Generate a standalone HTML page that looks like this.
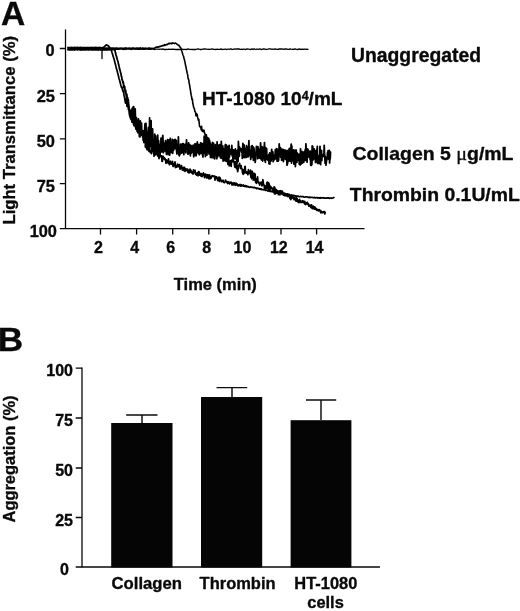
<!DOCTYPE html>
<html><head><meta charset="utf-8"><title>Figure</title>
<style>
html,body{margin:0;padding:0;background:#fff;}
svg{display:block;filter:blur(0.4px);}
text{font-family:"Liberation Sans",Arial,Helvetica,sans-serif;font-weight:bold;fill:#0a0a0a;stroke:#0a0a0a;stroke-width:0.35;stroke-linejoin:round;}
.ax{stroke:#080808;stroke-width:1.3;fill:none;}
.tr{stroke:#000;fill:none;stroke-linejoin:round;stroke-linecap:round;}
</style></head><body>
<svg width="520" height="611" viewBox="0 0 520 611">
<rect width="520" height="611" fill="#fff"/>

<!-- Panel A -->
<text x="1" y="25" font-size="33.5">A</text>
<g class="ax">
<path d="M65.5 29.5V228.6"/>
<path d="M59.8 228.6H364.5"/>
<path d="M59.8 48.5H65.5M59.8 93.6H65.5M59.8 138.8H65.5M59.8 183.7H65.5"/>
<path d="M100.5 228.6v5.8M136.6 228.6v5.8M172.7 228.6v5.8M208.8 228.6v5.8M244.9 228.6v5.8M281 228.6v5.8M316.6 228.6v5.8"/>
</g>
<g font-size="16.4" text-anchor="end">
<text x="54.7" y="56.3">0</text>
<text x="54.9" y="101.5">25</text>
<text x="54.9" y="146.7">50</text>
<text x="54.9" y="191.6">75</text>
<text x="57" y="237">100</text>
</g>
<g font-size="16" text-anchor="middle">
<text x="98.5" y="252.6">2</text>
<text x="134.6" y="252.6">4</text>
<text x="170.7" y="252.6">6</text>
<text x="206.8" y="252.6">8</text>
<text x="242.5" y="252.6">10</text>
<text x="278.8" y="252.6">12</text>
<text x="314.6" y="252.6">14</text>
</g>
<text x="173.8" y="289.6" font-size="17" textLength="83" lengthAdjust="spacingAndGlyphs">Time (min)</text>
<text transform="translate(15.3,224.5) rotate(-90)" font-size="16.8" textLength="188.5" lengthAdjust="spacingAndGlyphs">Light Transmittance (%)</text>

<polyline class="tr" stroke-width="1.3" points="68.0,49.2 69.0,49.1 70.0,49.2 71.0,49.0 72.0,49.3 73.0,49.2 74.0,49.0 75.0,49.1 76.0,49.0 77.0,49.5 78.0,49.0 79.0,49.3 80.0,49.3 81.0,49.3 82.0,49.1 83.0,49.0 84.0,48.9 85.0,49.0 86.0,49.4 87.0,49.0 88.0,49.2 89.0,49.1 90.0,48.9 91.0,49.1 92.0,49.5 93.0,49.1 94.0,49.1 95.0,49.3 96.0,49.1 97.0,49.0 98.0,49.1 99.0,49.5 100.0,48.9 101.0,48.9 102.0,49.4 103.0,49.0 104.0,48.9 105.0,49.0 106.0,49.5 107.0,49.5 108.0,49.5 109.0,49.1 110.0,49.5 111.0,48.9 112.0,49.2 113.0,49.2 114.0,49.2 115.0,49.5 116.0,49.4 117.0,49.2 118.0,49.4 119.0,49.4 120.0,48.9 121.0,49.1 122.0,49.1 123.0,49.5 124.0,49.4 125.0,49.1 126.0,49.5 127.0,48.9 128.0,49.1 129.0,49.0 130.0,49.2 131.0,49.5 132.0,49.4 133.0,48.9 134.0,49.0 135.0,49.4 136.0,49.0 137.0,49.4 138.0,49.3 139.0,49.3 140.0,49.3 141.0,49.3 142.0,49.0 143.0,49.4 144.0,49.2 145.0,49.4 146.0,48.9 147.0,49.0 148.0,49.2 149.0,49.4 150.0,49.1 151.0,49.4 152.0,48.9 153.0,48.9 154.0,49.3 155.0,49.5 156.0,49.1 157.0,49.1 158.0,49.1 159.0,49.3 160.0,49.1 161.0,49.1 162.0,49.4 163.0,48.9 164.0,49.5 165.0,49.4 166.0,49.5 167.0,49.4 168.0,49.4 169.0,49.1 170.0,49.4 171.0,49.3 172.0,49.1 173.0,49.4 174.0,49.2 175.0,49.5 176.0,49.4 177.0,49.5 178.0,49.5 179.0,49.3 180.0,49.5 181.0,49.3 182.0,49.2 183.0,49.5 184.0,49.3 185.0,49.3 186.0,49.5 187.0,49.3 188.0,48.9 189.0,49.3 190.0,49.3 191.0,49.4 192.0,49.5 193.0,49.4 194.0,49.5 195.0,49.4 196.0,49.5 197.0,49.2 198.0,49.0 199.0,49.2 200.0,49.5 201.0,49.5 202.0,49.3 203.0,49.1 204.0,49.0 205.0,48.9 206.0,49.1 207.0,49.2 208.0,49.5 209.0,49.2 210.0,49.3 211.0,49.2 212.0,48.9 213.0,49.1 214.0,49.3 215.0,49.3 216.0,49.5 217.0,49.2 218.0,49.3 219.0,49.4 220.0,49.4 221.0,48.9 222.0,49.5 223.0,49.4 224.0,49.3 225.0,49.0 226.0,49.5 227.0,49.3 228.0,49.0 229.0,49.3 230.0,49.0 231.0,48.9 232.0,49.3 233.0,49.4 234.0,49.2 235.0,49.0 236.0,49.1 237.0,48.9 238.0,49.0 239.0,48.9 240.0,49.3 241.0,49.4 242.0,49.2 243.0,49.3 244.0,49.0 245.0,49.5 246.0,49.3 247.0,48.9 248.0,49.2 249.0,49.2 250.0,49.5 251.0,49.4 252.0,48.9 253.0,49.3 254.0,48.9 255.0,49.2 256.0,49.4 257.0,49.0 258.0,49.3 259.0,49.1 260.0,48.9 261.0,49.5 262.0,49.4 263.0,49.0 264.0,49.0 265.0,49.1 266.0,49.4 267.0,49.5 268.0,49.2 269.0,48.9 270.0,48.9 271.0,49.0 272.0,49.4 273.0,49.0 274.0,49.3 275.0,48.9 276.0,49.1 277.0,49.3 278.0,49.3 279.0,48.9 280.0,49.0 281.0,49.0 282.0,49.0 283.0,49.1 284.0,49.4 285.0,48.9 286.0,49.0 287.0,49.2 288.0,49.4 289.0,49.4 290.0,48.9 291.0,49.2 292.0,49.3 293.0,49.2 294.0,49.4 295.0,48.9 296.0,49.2 297.0,49.4 298.0,49.5 299.0,48.9 300.0,49.4 301.0,49.1 302.0,49.4 303.0,49.2 304.0,49.4 305.0,49.0 306.0,49.5 307.0,49.1 308.0,49.4"/>
<path class="tr" stroke-width="1.3" d="M102 48.5V58.5"/>
<polyline class="tr" stroke-width="1.7" points="68.0,47.4 68.5,47.7 69.0,47.6 69.5,47.7 70.0,47.8 70.5,47.6 71.0,47.6 71.5,47.4 72.0,47.5 72.5,47.6 73.0,47.7 73.5,47.7 74.0,47.5 74.5,47.4 75.0,47.5 75.5,47.8 76.0,47.5 76.5,47.6 77.0,47.8 77.5,47.4 78.0,47.6 78.5,47.8 79.0,47.5 79.5,47.6 80.0,47.8 80.5,47.4 81.0,47.6 81.5,47.7 82.0,47.7 82.5,47.6 83.0,47.5 83.5,47.6 84.0,47.5 84.5,47.6 85.0,47.5 85.5,47.8 86.0,47.7 86.5,47.5 87.0,47.6 87.5,47.5 88.0,47.6 88.5,47.5 89.0,47.7 89.5,47.5 90.0,47.6 90.5,47.7 91.0,47.6 91.5,47.8 92.0,47.4 92.5,47.7 93.0,47.6 93.5,47.6 94.0,47.7 94.5,47.6 95.0,47.6 95.5,47.3 96.0,47.4 96.5,47.7 97.0,47.6 97.5,47.7 98.0,47.8 98.5,47.7 99.0,47.4 99.5,47.5 100.0,47.6 100.5,47.5 101.0,47.8 101.5,47.8 102.0,47.8 102.5,47.6 103.0,47.8 103.5,47.4 104.0,47.0 104.5,46.5 105.0,46.1 105.5,45.7 106.0,45.1 106.5,44.9 107.0,45.2 107.5,45.4 108.0,45.6 108.5,46.0 109.0,46.6 109.5,47.4 110.0,48.0 110.5,48.4 111.0,49.0 111.5,50.8 112.0,52.6 112.5,54.1 113.0,55.8 113.5,57.6 114.0,58.7 114.5,61.1 115.0,62.7 115.5,64.7 116.0,66.8 116.5,68.7 117.0,70.3 117.5,72.5 118.0,74.1 118.5,76.2 119.0,78.4 119.5,80.0 120.0,82.1 120.5,83.9 121.0,85.8 121.5,87.5 122.0,87.0 122.5,89.8 123.0,91.6 123.5,91.2 124.0,95.2 124.5,97.3 125.0,100.5 125.5,103.2 126.0,98.8 126.5,101.1 127.0,106.4 127.5,103.1 128.0,105.3 128.5,109.9 129.0,107.7 129.5,114.7 130.0,116.8 130.5,110.3 131.0,115.9 131.5,119.4 132.0,122.1 132.5,116.7 133.0,116.7 133.5,124.3 134.0,125.7 134.5,120.1 135.0,123.5 135.5,127.1 136.0,129.2 136.5,123.9 137.0,129.6 137.5,131.9 138.0,130.5 138.5,127.8 139.0,127.6 139.5,130.9 140.0,136.9 140.5,130.5 141.0,130.9 141.5,135.2 142.0,133.1 142.5,134.8 143.0,134.4 143.5,140.1 144.0,142.6 144.5,140.8 145.0,138.6 145.5,141.1 146.0,144.3 146.5,148.4 147.0,149.5 147.5,142.8 148.0,141.1 148.5,149.9 149.0,151.5 149.5,147.5 150.0,151.2 150.5,152.6 151.0,150.6 151.5,153.6 152.0,145.9 152.5,148.8 153.0,149.4 153.5,148.5 154.0,156.3 154.5,148.7 155.0,155.1 155.5,150.1 156.0,153.1 156.5,154.0 157.0,152.3 157.5,155.6 158.0,156.2 158.5,154.7 159.0,158.6 159.5,154.2 160.0,154.8 160.5,156.4 161.0,156.8 161.5,155.8 162.0,161.5 162.5,161.1 163.0,156.0 163.5,158.2 164.0,157.5 164.5,159.3 165.0,158.4 165.5,160.2 166.0,163.4 166.5,159.9 167.0,161.9 167.5,161.8 168.0,163.0 168.5,158.8 169.0,163.3 169.5,164.8 170.0,162.9 170.5,161.2 171.0,163.7 171.5,164.2 172.0,164.1 172.5,161.3 173.0,166.3 173.5,166.4 174.0,163.6 174.5,164.8 175.0,161.8 175.5,167.6 176.0,166.8 176.5,166.0 177.0,167.0 177.5,164.0 178.0,164.9 178.5,164.8 179.0,167.0 179.5,164.5 180.0,169.2 180.5,167.0 181.0,167.2 181.5,165.6 182.0,169.0 182.5,170.0 183.0,169.2 183.5,167.3 184.0,170.6 184.5,167.3 185.0,171.3 185.5,170.1 186.0,168.7 186.5,170.0 187.0,170.8 187.5,169.0 188.0,172.3 188.5,170.2 189.0,172.8 189.5,172.7 190.0,169.0 190.5,172.0 191.0,170.4 191.5,172.9 192.0,171.9 192.5,171.7 193.0,174.1 193.5,169.9 194.0,172.6 194.5,171.6 195.0,170.3 195.5,174.1 196.0,173.3 196.5,175.1 197.0,173.7 197.5,172.6 198.0,175.9 198.5,171.8 199.0,171.6 199.5,175.1 200.0,173.5 200.5,173.6 201.0,176.2 201.5,173.7 202.0,176.6 202.5,175.5 203.0,174.2 203.5,173.0 204.0,174.1 204.5,177.6 205.0,175.1 205.5,174.1 206.0,174.9 206.5,177.8 207.0,174.6 207.5,177.6 208.0,174.8 208.5,178.7 209.0,176.8 209.5,174.8 210.0,178.9 210.5,176.5 211.0,178.3 211.5,177.5 212.0,175.7 212.5,175.8 213.0,176.2 213.5,176.3 214.0,176.0 214.5,176.1 215.0,180.1 215.5,176.5 216.0,178.4 216.5,176.9 217.0,177.4 217.5,179.9 218.0,180.7 218.5,178.9 219.0,177.1 219.5,181.5 220.0,177.7 220.5,179.3 221.0,180.1 221.5,181.7 222.0,181.6 222.5,180.9 223.0,180.2 223.5,182.2 224.0,182.5 224.5,182.7 225.0,182.2 225.5,180.0 226.0,181.0 226.5,181.9 227.0,182.1 227.5,183.5 228.0,181.5 228.5,183.2 229.0,182.4 229.5,184.0 230.0,182.2 230.5,183.2 231.0,182.1 231.5,182.6 232.0,185.0 232.5,183.1 233.0,185.0 233.5,184.0 234.0,182.7 234.5,184.9 235.0,183.0 235.5,185.2 236.0,183.1 236.5,184.9 237.0,183.8 237.5,184.3 238.0,185.9 238.5,184.9 239.0,185.4 239.5,185.6 240.0,184.4 240.5,186.0 241.0,186.2 241.5,184.8 242.0,185.6 242.5,185.3 243.0,186.2 243.5,185.0 244.0,185.9 244.5,186.5 245.0,186.5 245.5,185.6 246.0,186.7 246.5,186.0 247.0,186.9 247.5,186.5 248.0,186.3 248.5,187.0 249.0,187.1 249.5,187.1 250.0,187.4 250.5,186.9 251.0,187.0 251.5,187.0 252.0,187.4 252.5,187.4 253.0,187.4 253.5,187.6 254.0,187.6 254.5,187.4 255.0,187.9 255.5,187.8 256.0,188.1 256.5,188.6 257.0,188.0 257.5,188.5 258.0,188.6 258.5,188.4 259.0,188.7 259.5,189.2 260.0,188.7 260.5,189.2 261.0,189.4 261.5,189.0 262.0,189.7 262.5,189.5 263.0,189.5 263.5,189.8 264.0,189.7 264.5,190.0 265.0,189.8 265.5,190.4 266.0,190.2 266.5,190.1 267.0,190.3 267.5,190.8 268.0,190.9 268.5,190.7 269.0,190.7 269.5,190.8 270.0,191.4 270.5,190.9 271.0,191.6 271.5,191.7 272.0,191.3 272.5,191.5 273.0,191.8 273.5,192.1 274.0,192.3 274.5,192.4 275.0,192.0 275.5,192.0 276.0,192.3 276.5,192.5 277.0,192.7 277.5,192.4 278.0,192.9 278.5,193.2 279.0,193.3 279.5,193.4 280.0,193.5 280.5,193.6 281.0,193.1 281.5,193.8 282.0,193.4 282.5,193.6 283.0,193.8 283.5,194.2 284.0,194.1 284.5,194.0 285.0,194.1 285.5,194.5 286.0,194.6 286.5,194.2 287.0,194.3 287.5,194.5 288.0,194.5 288.5,194.8 289.0,194.6 289.5,195.0 290.0,195.3 290.5,195.3 291.0,194.9 291.5,195.1 292.0,195.3 292.5,195.5 293.0,195.4 293.5,195.4 294.0,195.6 294.5,195.6 295.0,196.1 295.5,196.0 296.0,195.9 296.5,196.2 297.0,196.1 297.5,196.2 298.0,196.1 298.5,196.3 299.0,196.7 299.5,196.6 300.0,196.7 300.5,196.3 301.0,196.6 301.5,196.6 302.0,196.5 302.5,196.7 303.0,196.6 303.5,196.8 304.0,197.2 304.5,197.1 305.0,197.2 305.5,196.8 306.0,196.9 306.5,196.8 307.0,196.9 307.5,197.0 308.0,197.5 308.5,197.5 309.0,197.1 309.5,197.2 310.0,197.6 310.5,197.4 311.0,197.3 311.5,197.4 312.0,197.3 312.5,197.5 313.0,197.6 313.5,197.6 314.0,197.8 314.5,197.4 315.0,197.7 315.5,197.9 316.0,197.5 316.5,197.7 317.0,197.8 317.5,197.7 318.0,198.1 318.5,197.8 319.0,197.8 319.5,198.1 320.0,197.6 320.5,198.1 321.0,197.7 321.5,197.8 322.0,197.9 322.5,197.9 323.0,197.7 323.5,197.8 324.0,197.9 324.5,198.2 325.0,198.2 325.5,198.0 326.0,198.2 326.5,198.2 327.0,197.9 327.5,197.8 328.0,198.1 328.5,197.9 329.0,197.8 329.5,198.3 330.0,198.3 330.5,198.1 331.0,198.1 331.5,198.2 332.0,198.3 332.5,198.0 333.0,197.9 333.5,197.6 334.0,197.5"/>
<polyline class="tr" stroke-width="1.8" points="68.0,49.7 68.3,49.5 68.6,49.5 68.9,49.7 69.2,49.8 69.5,49.6 69.8,49.8 70.1,49.8 70.4,49.7 70.7,49.8 71.0,49.5 71.3,49.5 71.6,49.8 71.9,49.9 72.2,49.5 72.5,49.8 72.8,49.5 73.1,49.5 73.4,49.5 73.7,49.6 74.0,49.7 74.3,50.0 74.6,49.7 74.9,49.6 75.2,49.6 75.5,49.4 75.8,49.5 76.1,49.7 76.4,49.7 76.7,49.6 77.0,49.7 77.3,49.6 77.6,49.8 77.9,49.7 78.2,49.6 78.5,49.7 78.8,49.6 79.1,49.6 79.4,49.4 79.7,49.9 80.0,49.6 80.3,50.0 80.6,49.7 80.9,49.6 81.2,49.8 81.5,49.8 81.8,49.9 82.1,49.6 82.4,49.9 82.7,49.9 83.0,49.7 83.3,49.7 83.6,49.8 83.9,49.6 84.2,49.9 84.5,49.8 84.8,49.9 85.1,49.7 85.4,49.7 85.7,49.5 86.0,49.6 86.3,49.8 86.6,49.9 86.9,49.5 87.2,49.5 87.5,49.5 87.8,49.6 88.1,49.8 88.4,49.5 88.7,49.7 89.0,49.7 89.3,49.9 89.6,49.5 89.9,49.5 90.2,49.7 90.5,49.6 90.8,49.6 91.1,49.8 91.4,49.8 91.7,49.4 92.0,49.7 92.3,49.9 92.6,49.9 92.9,49.4 93.2,49.8 93.5,49.3 93.8,49.8 94.1,49.7 94.4,49.9 94.7,49.7 95.0,49.4 95.3,49.8 95.6,49.5 95.9,49.9 96.2,49.5 96.5,49.6 96.8,49.8 97.1,49.6 97.4,49.8 97.7,49.9 98.0,49.9 98.3,50.0 98.6,49.7 98.9,49.6 99.2,49.6 99.5,49.7 99.8,49.5 100.1,49.8 100.4,49.5 100.7,49.5 101.0,50.0 101.3,49.9 101.6,49.6 101.9,49.6 102.2,49.9 102.5,49.8 102.8,49.6 103.1,49.7 103.4,49.9 103.7,49.2 104.0,50.0 104.3,49.8 104.6,49.5 104.9,49.9 105.2,49.5 105.5,49.7 105.8,49.8 106.1,49.6 106.4,49.9 106.7,49.8 107.0,49.5 107.3,49.5 107.6,49.3 107.9,49.7 108.2,49.5 108.5,49.7 108.8,49.9 109.1,49.9 109.4,49.5 109.7,49.6 110.0,49.6 110.3,49.6 110.6,49.6 110.9,49.7 111.2,49.8 111.5,49.6 111.8,49.6 112.1,49.6 112.4,49.4 112.7,49.6 113.0,49.4 113.3,49.7 113.6,49.6 113.9,49.2 114.2,49.1 114.5,49.4 114.8,50.4 115.1,51.1 115.4,52.6 115.7,53.5 116.0,54.9 116.3,55.9 116.6,57.1 116.9,58.1 117.2,59.3 117.5,60.0 117.8,61.1 118.1,62.1 118.4,63.9 118.7,64.6 119.0,66.2 119.3,67.5 119.6,69.1 119.9,69.9 120.2,70.8 120.5,72.4 120.8,73.1 121.1,74.7 121.4,76.5 121.7,76.8 122.0,79.6 122.3,80.0 122.6,80.7 122.9,82.9 123.2,81.8 123.5,83.9 123.8,87.3 124.1,85.6 124.4,89.1 124.7,86.6 125.0,90.6 125.3,92.6 125.6,90.2 125.9,92.4 126.2,95.7 126.5,97.4 126.8,94.2 127.1,97.4 127.4,106.1 127.7,97.7 128.0,105.8 128.3,99.6 128.6,104.2 128.9,106.2 129.2,108.6 129.5,111.8 129.8,114.3 130.1,113.8 130.4,116.5 130.7,118.9 131.0,110.4 131.3,119.2 131.6,114.2 131.9,109.8 132.2,108.4 132.5,119.5 132.8,117.4 133.1,106.9 133.4,117.6 133.7,106.7 134.0,113.7 134.3,118.0 134.6,120.4 134.9,110.8 135.2,108.9 135.5,121.2 135.8,126.6 136.1,126.8 136.4,117.7 136.7,123.1 137.0,127.0 137.3,131.2 137.6,123.2 137.9,132.7 138.2,120.6 138.5,119.0 138.8,121.4 139.1,132.2 139.4,136.5 139.7,127.6 140.0,133.5 140.3,120.9 140.6,129.7 140.9,128.3 141.2,128.5 141.5,123.1 141.8,133.5 142.1,134.9 142.4,134.3 142.7,137.1 143.0,130.7 143.3,140.2 143.6,133.9 143.9,141.5 144.2,130.7 144.5,137.8 144.8,126.2 145.1,123.7 145.4,146.9 145.7,130.9 146.0,123.4 146.3,137.4 146.6,145.2 146.9,141.8 147.2,147.4 147.5,149.7 147.8,135.7 148.1,130.8 148.4,127.3 148.7,132.6 149.0,141.6 149.3,148.4 149.6,118.0 149.9,146.5 150.2,145.4 150.5,143.7 150.8,130.4 151.1,120.7 151.4,146.9 151.7,143.0 152.0,136.6 152.3,136.1 152.6,128.9 152.9,151.7 153.2,148.1 153.5,151.4 153.8,147.9 154.1,139.7 154.4,148.7 154.7,134.1 155.0,145.0 155.3,135.7 155.6,139.7 155.9,150.8 156.2,141.5 156.5,152.2 156.8,146.3 157.1,140.2 157.4,136.2 157.7,135.1 158.0,147.7 158.3,153.3 158.6,140.7 158.9,146.1 159.2,156.5 159.5,144.5 159.8,155.5 160.1,153.2 160.4,146.6 160.7,150.3 161.0,138.2 161.3,147.1 161.6,151.9 161.9,141.6 162.2,138.2 162.5,137.8 162.8,135.5 163.1,141.9 163.4,152.7 163.7,146.2 164.0,147.7 164.3,143.4 164.6,143.0 164.9,147.6 165.2,151.1 165.5,140.6 165.8,145.1 166.1,148.8 166.4,154.3 166.7,141.7 167.0,142.4 167.3,147.1 167.6,139.6 167.9,148.1 168.2,154.6 168.5,142.4 168.8,146.2 169.1,140.0 169.4,147.1 169.7,155.0 170.0,148.0 170.3,138.4 170.6,143.6 170.9,149.4 171.2,152.5 171.5,145.0 171.8,145.9 172.1,151.3 172.4,139.4 172.7,153.3 173.0,145.1 173.3,142.9 173.6,150.3 173.9,141.7 174.2,139.9 174.5,141.8 174.8,148.7 175.1,139.3 175.4,145.1 175.7,141.6 176.0,146.7 176.3,140.5 176.6,151.2 176.9,154.0 177.2,144.7 177.5,145.6 177.8,149.9 178.1,152.6 178.4,136.8 178.7,152.4 179.0,155.0 179.3,155.8 179.6,148.7 179.9,154.6 180.2,150.0 180.5,144.2 180.8,145.6 181.1,150.3 181.4,149.4 181.7,153.1 182.0,151.6 182.3,143.7 182.6,146.5 182.9,152.4 183.2,147.4 183.5,143.7 183.8,154.6 184.1,147.1 184.4,144.9 184.7,147.9 185.0,144.7 185.3,144.4 185.6,151.4 185.9,152.9 186.2,147.2 186.5,139.8 186.8,148.7 187.1,147.8 187.4,148.6 187.7,145.8 188.0,154.1 188.3,145.4 188.6,142.8 188.9,152.8 189.2,153.4 189.5,145.6 189.8,144.6 190.1,150.7 190.4,155.8 190.7,145.6 191.0,149.8 191.3,145.7 191.6,153.0 191.9,148.9 192.2,147.7 192.5,151.9 192.8,150.1 193.1,145.2 193.4,148.5 193.7,156.8 194.0,154.5 194.3,149.9 194.6,152.0 194.9,143.9 195.2,147.8 195.5,155.0 195.8,144.0 196.1,155.9 196.4,153.7 196.7,151.0 197.0,146.1 197.3,142.0 197.6,145.2 197.9,152.1 198.2,147.4 198.5,153.4 198.8,144.6 199.1,154.0 199.4,154.7 199.7,153.7 200.0,145.0 200.3,145.3 200.6,142.9 200.9,142.7 201.2,153.1 201.5,149.4 201.8,153.5 202.1,143.7 202.4,147.2 202.7,155.5 203.0,157.1 203.3,143.4 203.6,153.7 203.9,150.3 204.2,136.2 204.5,151.2 204.8,146.0 205.1,147.1 205.4,156.5 205.7,153.0 206.0,137.4 206.3,152.0 206.6,141.8 206.9,155.1 207.2,150.7 207.5,151.1 207.8,141.8 208.1,142.8 208.4,149.5 208.7,147.3 209.0,153.9 209.3,146.0 209.6,148.1 209.9,144.1 210.2,150.2 210.5,157.4 210.8,147.2 211.1,155.4 211.4,146.2 211.7,157.5 212.0,152.1 212.3,146.2 212.6,156.1 212.9,157.7 213.2,146.4 213.5,146.0 213.8,148.0 214.1,152.0 214.4,158.5 214.7,158.8 215.0,149.0 215.3,144.6 215.6,153.0 215.9,152.7 216.2,147.6 216.5,153.0 216.8,158.7 217.1,141.9 217.4,148.5 217.7,156.6 218.0,146.1 218.3,145.5 218.6,146.1 218.9,155.1 219.2,145.3 219.5,144.6 219.8,152.7 220.1,154.7 220.4,155.7 220.7,149.5 221.0,156.8 221.3,141.3 221.6,149.9 221.9,148.9 222.2,151.8 222.5,146.6 222.8,146.0 223.1,161.1 223.4,148.7 223.7,151.9 224.0,158.4 224.3,149.0 224.6,149.9 224.9,153.1 225.2,145.3 225.5,144.5 225.8,153.7 226.1,149.7 226.4,145.2 226.7,145.9 227.0,154.4 227.3,155.3 227.6,151.4 227.9,146.9 228.2,157.7 228.5,146.4 228.8,155.8 229.1,145.3 229.4,157.1 229.7,154.5 230.0,150.3 230.3,149.5 230.6,152.2 230.9,153.5 231.2,152.2 231.5,154.5 231.8,145.5 232.1,150.8 232.4,156.2 232.7,151.6 233.0,160.0 233.3,153.4 233.6,150.0 233.9,158.9 234.2,150.9 234.5,153.7 234.8,155.2 235.1,158.5 235.4,148.8 235.7,158.9 236.0,154.4 236.3,151.4 236.6,151.0 236.9,161.0 237.2,162.6 237.5,154.6 237.8,150.0 238.1,161.4 238.4,141.5 238.7,147.6 239.0,154.4 239.3,156.3 239.6,147.1 239.9,149.8 240.2,148.3 240.5,150.7 240.8,149.7 241.1,148.7 241.4,148.8 241.7,152.4 242.0,148.7 242.3,158.3 242.6,151.3 242.9,143.4 243.2,155.6 243.5,157.4 243.8,150.7 244.1,145.0 244.4,154.6 244.7,157.1 245.0,157.7 245.3,155.1 245.6,153.5 245.9,149.7 246.2,148.3 246.5,145.7 246.8,157.3 247.1,153.5 247.4,149.4 247.7,147.1 248.0,149.7 248.3,156.7 248.6,148.4 248.9,140.7 249.2,150.7 249.5,150.0 249.8,155.4 250.1,153.2 250.4,151.8 250.7,159.4 251.0,157.3 251.3,146.4 251.6,148.3 251.9,150.9 252.2,145.7 252.5,156.1 252.8,157.5 253.1,146.8 253.4,160.3 253.7,153.1 254.0,148.2 254.3,154.4 254.6,155.3 254.9,156.2 255.2,162.4 255.5,159.5 255.8,152.1 256.1,152.5 256.4,146.5 256.7,152.6 257.0,149.2 257.3,148.2 257.6,158.7 257.9,146.6 258.2,148.1 258.5,156.2 258.8,154.6 259.1,152.5 259.4,158.1 259.7,149.4 260.0,148.9 260.3,153.5 260.6,142.8 260.9,156.1 261.2,159.8 261.5,157.9 261.8,158.9 262.1,146.6 262.4,151.0 262.7,161.0 263.0,158.2 263.3,154.6 263.6,155.8 263.9,147.4 264.2,147.7 264.5,142.6 264.8,160.5 265.1,151.4 265.4,162.3 265.7,147.6 266.0,159.8 266.3,155.8 266.6,148.6 266.9,158.2 267.2,158.9 267.5,159.0 267.8,160.0 268.1,158.9 268.4,160.4 268.7,154.7 269.0,163.6 269.3,156.3 269.6,153.0 269.9,164.1 270.2,153.2 270.5,155.6 270.8,159.5 271.1,161.0 271.4,153.7 271.7,149.4 272.0,157.6 272.3,157.6 272.6,159.4 272.9,152.0 273.2,161.7 273.5,159.3 273.8,160.3 274.1,158.5 274.4,156.9 274.7,154.9 275.0,159.2 275.3,149.7 275.6,156.5 275.9,158.6 276.2,158.4 276.5,148.7 276.8,151.6 277.1,161.1 277.4,158.9 277.7,149.5 278.0,154.6 278.3,161.0 278.6,160.2 278.9,155.0 279.2,144.0 279.5,150.3 279.8,147.2 280.1,149.3 280.4,147.6 280.7,157.2 281.0,157.2 281.3,152.8 281.6,160.2 281.9,149.2 282.2,150.1 282.5,156.6 282.8,155.5 283.1,149.5 283.4,161.6 283.7,157.4 284.0,157.3 284.3,154.0 284.6,157.7 284.9,149.8 285.2,153.5 285.5,159.4 285.8,158.4 286.1,157.5 286.4,150.6 286.7,154.9 287.0,165.1 287.3,164.2 287.6,163.6 287.9,150.4 288.2,150.2 288.5,152.1 288.8,161.2 289.1,151.4 289.4,148.4 289.7,151.8 290.0,158.7 290.3,155.8 290.6,161.1 290.9,149.3 291.2,144.1 291.5,163.1 291.8,146.0 292.1,159.9 292.4,158.5 292.7,152.6 293.0,153.7 293.3,160.9 293.6,149.9 293.9,164.0 294.2,150.1 294.5,151.8 294.8,159.0 295.1,150.9 295.4,166.6 295.7,154.9 296.0,150.0 296.3,151.5 296.6,157.5 296.9,162.3 297.2,153.0 297.5,155.2 297.8,157.8 298.1,159.0 298.4,160.2 298.7,154.1 299.0,154.8 299.3,164.3 299.6,163.3 299.9,156.0 300.2,164.9 300.5,148.8 300.8,162.5 301.1,164.0 301.4,158.9 301.7,160.9 302.0,151.4 302.3,163.2 302.6,160.6 302.9,158.8 303.2,158.6 303.5,152.1 303.8,162.3 304.1,157.3 304.4,158.3 304.7,151.5 305.0,158.3 305.3,149.4 305.6,160.4 305.9,143.8 306.2,150.7 306.5,152.0 306.8,154.9 307.1,162.1 307.4,149.0 307.7,157.4 308.0,149.5 308.3,154.9 308.6,153.8 308.9,151.9 309.2,156.9 309.5,155.0 309.8,151.2 310.1,159.4 310.4,151.1 310.7,165.2 311.0,151.6 311.3,165.4 311.6,152.7 311.9,164.4 312.2,145.8 312.5,149.7 312.8,146.3 313.1,159.9 313.4,152.5 313.7,150.4 314.0,158.8 314.3,149.0 314.6,156.8 314.9,153.5 315.2,151.0 315.5,162.4 315.8,154.0 316.1,150.6 316.4,159.1 316.7,161.6 317.0,152.0 317.3,146.4 317.6,163.4 317.9,155.4 318.2,157.2 318.5,156.1 318.8,163.4 319.1,156.0 319.4,161.1 319.7,157.7 320.0,146.3 320.3,157.6 320.6,164.5 320.9,157.9 321.2,155.8 321.5,150.3 321.8,160.6 322.1,155.9 322.4,154.8 322.7,155.5 323.0,156.3 323.3,155.0 323.6,154.3 323.9,156.4 324.2,145.4 324.5,153.3 324.8,156.5 325.1,163.2 325.4,156.3 325.7,158.2 326.0,165.1 326.3,162.0 326.6,160.6 326.9,159.1 327.2,158.8 327.5,152.6 327.8,151.8 328.1,150.6 328.4,151.1 328.7,159.1 329.0,159.0 329.3,150.5 329.6,162.9 329.9,157.2 330.2,158.9 330.5,152.1"/>
<polyline class="tr" stroke-width="1.6" points="68.0,48.0 68.4,48.2 68.8,48.2 69.2,48.2 69.6,48.3 70.0,47.9 70.4,48.1 70.8,48.2 71.2,48.3 71.6,48.0 72.0,48.2 72.4,48.0 72.8,48.1 73.2,48.3 73.6,48.3 74.0,48.0 74.4,48.1 74.8,48.4 75.2,48.2 75.6,48.2 76.0,48.1 76.4,48.1 76.8,48.1 77.2,48.0 77.6,48.1 78.0,48.2 78.4,48.2 78.8,48.1 79.2,48.1 79.6,48.1 80.0,48.3 80.4,48.3 80.8,48.3 81.2,48.0 81.6,48.2 82.0,48.2 82.4,48.0 82.8,48.1 83.2,48.3 83.6,48.2 84.0,48.3 84.4,48.0 84.8,48.0 85.2,48.3 85.6,48.2 86.0,48.0 86.4,47.9 86.8,48.0 87.2,48.2 87.6,48.0 88.0,48.2 88.4,47.9 88.8,48.2 89.2,47.9 89.6,48.3 90.0,48.1 90.4,47.9 90.8,48.3 91.2,48.1 91.6,48.2 92.0,48.0 92.4,48.1 92.8,48.2 93.2,48.1 93.6,48.2 94.0,48.1 94.4,48.2 94.8,48.0 95.2,48.2 95.6,48.3 96.0,48.4 96.4,48.3 96.8,48.0 97.2,48.1 97.6,48.3 98.0,48.3 98.4,47.9 98.8,47.9 99.2,48.1 99.6,48.1 100.0,47.9 100.4,48.0 100.8,48.0 101.2,48.3 101.6,48.0 102.0,48.3 102.4,48.3 102.8,48.0 103.2,48.3 103.6,47.9 104.0,48.1 104.4,48.0 104.8,48.1 105.2,48.1 105.6,48.4 106.0,48.4 106.4,48.1 106.8,48.1 107.2,48.4 107.6,48.0 108.0,48.1 108.4,48.2 108.8,48.2 109.2,48.0 109.6,48.1 110.0,48.0 110.4,48.4 110.8,48.4 111.2,48.4 111.6,48.2 112.0,48.0 112.4,48.5 112.8,48.0 113.2,48.1 113.6,48.0 114.0,48.2 114.4,48.3 114.8,48.5 115.2,48.2 115.6,48.0 116.0,48.4 116.4,48.0 116.8,48.1 117.2,48.1 117.6,48.5 118.0,48.2 118.4,48.5 118.8,48.3 119.2,48.2 119.6,48.4 120.0,48.0 120.4,48.0 120.8,48.4 121.2,48.2 121.6,48.1 122.0,48.3 122.4,48.4 122.8,48.4 123.2,48.3 123.6,48.3 124.0,48.1 124.4,48.2 124.8,48.5 125.2,48.5 125.6,47.9 126.0,48.1 126.4,48.1 126.8,48.2 127.2,48.2 127.6,48.2 128.0,48.3 128.4,48.1 128.8,48.4 129.2,48.0 129.6,48.5 130.0,48.1 130.4,48.5 130.8,48.3 131.2,48.5 131.6,48.2 132.0,48.1 132.4,48.3 132.8,48.0 133.2,48.1 133.6,48.2 134.0,48.0 134.4,48.4 134.8,48.2 135.2,48.2 135.6,48.3 136.0,48.5 136.4,48.0 136.8,48.1 137.2,48.0 137.6,48.6 138.0,48.2 138.4,48.4 138.8,48.0 139.2,48.5 139.6,48.0 140.0,48.3 140.4,47.9 140.8,48.4 141.2,48.2 141.6,48.3 142.0,48.4 142.4,48.1 142.8,48.3 143.2,48.0 143.6,48.5 144.0,48.3 144.4,48.2 144.8,48.3 145.2,48.3 145.6,48.1 146.0,48.2 146.4,48.4 146.8,48.3 147.2,48.6 147.6,48.4 148.0,48.5 148.4,48.0 148.8,48.3 149.2,48.1 149.6,48.1 150.0,48.2 150.4,48.4 150.8,48.3 151.2,48.3 151.6,48.3 152.0,48.7 152.4,48.3 152.8,48.6 153.2,48.6 153.6,48.2 154.0,48.3 154.4,48.3 154.8,48.0 155.2,47.8 155.6,47.4 156.0,47.3 156.4,47.1 156.8,47.1 157.2,47.2 157.6,47.0 158.0,47.1 158.4,46.7 158.8,46.9 159.2,46.6 159.6,46.4 160.0,46.7 160.4,46.3 160.8,46.3 161.2,46.0 161.6,46.2 162.0,45.7 162.4,45.5 162.8,45.8 163.2,45.6 163.6,45.5 164.0,45.0 164.4,45.4 164.8,44.7 165.2,45.3 165.6,45.1 166.0,44.9 166.4,44.4 166.8,44.5 167.2,44.6 167.6,44.2 168.0,44.0 168.4,43.5 168.8,43.4 169.2,43.8 169.6,43.6 170.0,43.5 170.4,43.2 170.8,43.2 171.2,43.6 171.6,43.2 172.0,43.6 172.4,42.9 172.8,43.1 173.2,43.1 173.6,43.1 174.0,43.3 174.4,43.4 174.8,43.6 175.2,43.1 175.6,43.2 176.0,43.4 176.4,43.6 176.8,44.1 177.2,44.2 177.6,44.7 178.0,45.0 178.4,45.2 178.8,45.2 179.2,46.0 179.6,46.3 180.0,47.0 180.4,47.7 180.8,48.0 181.2,49.0 181.6,50.4 182.0,51.6 182.4,53.0 182.8,54.4 183.2,55.6 183.6,56.5 184.0,58.2 184.4,59.5 184.8,61.4 185.2,63.4 185.6,65.6 186.0,67.0 186.4,69.4 186.8,71.0 187.2,73.2 187.6,74.5 188.0,77.7 188.4,79.2 188.8,80.0 189.2,83.6 189.6,84.8 190.0,87.8 190.4,89.8 190.8,93.0 191.2,95.2 191.6,96.8 192.0,99.6 192.4,99.1 192.8,103.5 193.2,104.9 193.6,107.2 194.0,108.0 194.4,108.9 194.8,111.1 195.2,111.8 195.6,112.5 196.0,115.8 196.4,114.6 196.8,113.9 197.2,114.6 197.6,117.2 198.0,118.6 198.4,120.4 198.8,119.3 199.2,123.0 199.6,126.4 200.0,126.7 200.4,127.2 200.8,127.0 201.2,129.8 201.6,126.3 202.0,130.8 202.4,131.3 202.8,130.2 203.2,131.6 203.6,130.3 204.0,130.1 204.4,132.7 204.8,133.3 205.2,135.0 205.6,134.5 206.0,138.6 206.4,134.8 206.8,139.8 207.2,138.8 207.6,137.6 208.0,142.5 208.4,140.9 208.8,138.4 209.2,143.9 209.6,140.4 210.0,142.8 210.4,143.9 210.8,144.8 211.2,145.0 211.6,146.1 212.0,146.1 212.4,142.3 212.8,145.2 213.2,145.2 213.6,143.1 214.0,145.8 214.4,148.9 214.8,147.0 215.2,147.1 215.6,148.3 216.0,149.4 216.4,151.4 216.8,152.6 217.2,148.7 217.6,148.9 218.0,149.8 218.4,154.6 218.8,155.5 219.2,151.5 219.6,156.0 220.0,154.1 220.4,157.9 220.8,155.1 221.2,158.2 221.6,155.6 222.0,154.2 222.4,158.8 222.8,154.8 223.2,158.9 223.6,156.8 224.0,155.1 224.4,156.6 224.8,160.6 225.2,155.3 225.6,153.6 226.0,161.4 226.4,154.7 226.8,156.2 227.2,158.9 227.6,162.2 228.0,164.5 228.4,157.5 228.8,158.3 229.2,166.0 229.6,162.2 230.0,165.5 230.4,161.1 230.8,160.6 231.2,166.5 231.6,160.0 232.0,160.7 232.4,161.9 232.8,161.7 233.2,160.3 233.6,161.9 234.0,161.1 234.4,165.1 234.8,167.2 235.2,165.7 235.6,161.5 236.0,167.1 236.4,168.6 236.8,163.3 237.2,166.6 237.6,171.8 238.0,170.5 238.4,166.9 238.8,165.1 239.2,164.3 239.6,163.3 240.0,165.5 240.4,168.3 240.8,168.6 241.2,165.5 241.6,168.5 242.0,168.6 242.4,172.5 242.8,173.8 243.2,174.4 243.6,169.8 244.0,173.7 244.4,171.6 244.8,166.5 245.2,166.4 245.6,172.0 246.0,173.1 246.4,173.1 246.8,171.7 247.2,173.1 247.6,174.1 248.0,174.8 248.4,169.5 248.8,173.0 249.2,171.8 249.6,173.6 250.0,172.9 250.4,170.0 250.8,177.3 251.2,175.0 251.6,178.8 252.0,171.0 252.4,171.9 252.8,172.6 253.2,180.2 253.6,177.0 254.0,179.6 254.4,173.4 254.8,180.2 255.2,174.1 255.6,182.4 256.0,178.9 256.4,183.5 256.8,180.6 257.2,180.6 257.6,176.7 258.0,181.5 258.4,183.0 258.8,181.9 259.2,182.9 259.6,185.1 260.0,183.6 260.4,183.4 260.8,182.5 261.2,182.0 261.6,184.7 262.0,186.0 262.4,185.2 262.8,179.5 263.2,181.2 263.6,184.8 264.0,184.6 264.4,188.1 264.8,188.9 265.2,188.4 265.6,185.9 266.0,187.3 266.4,188.8 266.8,182.6 267.2,184.4 267.6,182.1 268.0,187.9 268.4,190.9 268.8,182.9 269.2,184.4 269.6,185.4 270.0,190.7 270.4,187.5 270.8,186.4 271.2,188.2 271.6,187.6 272.0,187.9 272.4,190.7 272.8,191.8 273.2,188.5 273.6,190.8 274.0,186.8 274.4,193.9 274.8,187.3 275.2,190.7 275.6,193.9 276.0,189.4 276.4,189.6 276.8,193.1 277.2,191.7 277.6,190.7 278.0,193.1 278.4,194.7 278.8,193.6 279.2,190.8 279.6,193.4 280.0,195.0 280.4,190.5 280.8,193.3 281.2,192.5 281.6,193.6 282.0,190.8 282.4,191.5 282.8,192.2 283.2,195.1 283.6,193.1 284.0,193.3 284.4,195.7 284.8,193.1 285.2,194.3 285.6,195.7 286.0,194.7 286.4,195.9 286.8,195.9 287.2,193.8 287.6,193.7 288.0,196.8 288.4,195.4 288.8,194.5 289.2,194.4 289.6,196.3 290.0,198.6 290.4,196.0 290.8,199.7 291.2,195.3 291.6,197.9 292.0,198.4 292.4,197.7 292.8,196.5 293.2,196.9 293.6,198.1 294.0,199.7 294.4,197.8 294.8,197.7 295.2,198.1 295.6,200.9 296.0,198.0 296.4,197.9 296.8,201.3 297.2,198.3 297.6,201.6 298.0,201.0 298.4,202.5 298.8,200.0 299.2,202.4 299.6,199.3 300.0,202.4 300.4,200.6 300.8,201.2 301.2,202.6 301.6,202.0 302.0,201.3 302.4,200.6 302.8,202.5 303.2,201.5 303.6,201.0 304.0,202.0 304.4,203.9 304.8,201.4 305.2,202.8 305.6,204.7 306.0,204.3 306.4,203.7 306.8,202.6 307.2,202.2 307.6,203.6 308.0,204.8 308.4,203.5 308.8,206.1 309.2,205.4 309.6,205.0 310.0,206.4 310.4,205.0 310.8,207.5 311.2,205.8 311.6,204.7 312.0,208.5 312.4,207.0 312.8,208.7 313.2,206.1 313.6,206.6 314.0,207.7 314.4,209.3 314.8,206.7 315.2,208.5 315.6,209.4 316.0,208.3 316.4,208.6 316.8,210.4 317.2,209.2 317.6,209.9 318.0,210.0 318.4,211.0 318.8,209.5 319.2,210.5 319.6,209.7 320.0,210.4 320.4,212.2 320.8,212.9 321.2,211.0 321.6,212.6 322.0,212.0 322.4,212.7 322.8,211.8 323.2,211.9 323.6,211.6 324.0,212.7 324.4,211.5 324.8,214.0 325.2,212.3"/>

<g font-size="19">
<text x="351" y="61.9" font-size="19.4" textLength="130" lengthAdjust="spacingAndGlyphs">Unaggregated</text>
<text x="202" y="105" textLength="140.5" lengthAdjust="spacingAndGlyphs">HT-1080 10<tspan font-size="12.5" dy="-5.5">4</tspan><tspan dy="5.5">/mL</tspan></text>
<text x="352.5" y="160.3" textLength="161" lengthAdjust="spacingAndGlyphs">Collagen 5 <tspan font-family="'Liberation Serif','DejaVu Serif',serif" font-size="19.5" font-weight="normal">μ</tspan>g/mL</text>
<text x="349.8" y="200.6" textLength="170" lengthAdjust="spacingAndGlyphs">Thrombin 0.1U/mL</text>
</g>

<!-- Panel B -->
<text x="-2.2" y="351.3" font-size="33" textLength="25.4" lengthAdjust="spacingAndGlyphs">B</text>
<g class="ax">
<path d="M82 367.6V567.6"/>
<path d="M75.7 567H380"/>
<path d="M75.7 368.2H82M75.7 418H82M75.7 468H82M75.7 517.5H82"/>
</g>
<g class="ax" style="stroke:#0c0c0c;stroke-width:1.45">
<path d="M142 423V415M126.2 415H157.5"/>
<path d="M232 397V387.6M216.5 387.6H247.2"/>
<path d="M321 420V400M306 400H336.2"/>
</g>
<rect x="111.2" y="423" width="61.3" height="144.5" fill="#050505"/>
<rect x="201" y="397" width="61.2" height="170.5" fill="#050505"/>
<rect x="290.6" y="420.2" width="60.8" height="147.3" fill="#050505"/>
<g font-size="16" text-anchor="end">
<text x="73" y="376.3">100</text>
<text x="73" y="426.2">75</text>
<text x="73" y="476.2">50</text>
<text x="73" y="525.6">25</text>
<text x="69" y="575.3">0</text>
</g>
<text transform="translate(14.8,522.5) rotate(-90)" font-size="16.6" textLength="127" lengthAdjust="spacingAndGlyphs">Aggregation (%)</text>
<g font-size="16.8">
<text x="111.5" y="589.3" textLength="70.5" lengthAdjust="spacingAndGlyphs">Collagen</text>
<text x="199.6" y="589.3" textLength="76" lengthAdjust="spacingAndGlyphs">Thrombin</text>
<text x="294.3" y="589.4" textLength="63" lengthAdjust="spacingAndGlyphs">HT-1080</text>
<text x="307.3" y="608.3" font-size="17.3" textLength="36.5" lengthAdjust="spacingAndGlyphs">cells</text>
</g>
</svg>
</body></html>
